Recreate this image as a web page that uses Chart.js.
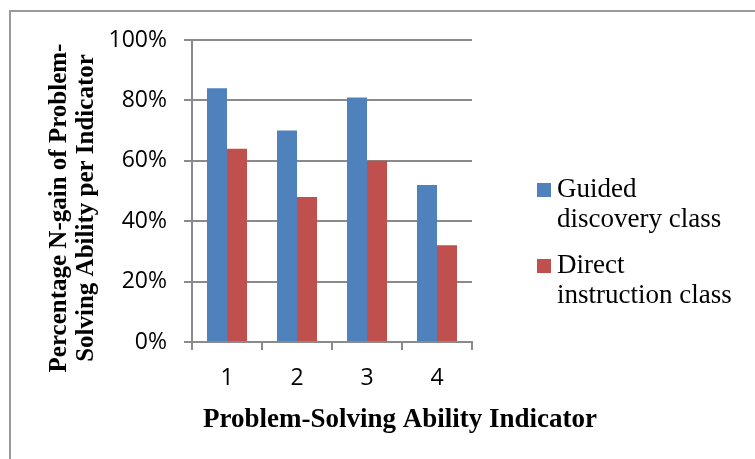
<!DOCTYPE html>
<html><head><meta charset="utf-8">
<script src="https://cdn.jsdelivr.net/npm/chart.js@4/dist/chart.umd.min.js"></script>
<style>html,body{margin:0;padding:0;background:#fff;}#wrap{position:relative;width:755px;height:459px;}</style>
</head><body><div id="wrap"><canvas id="c" width="755" height="459"></canvas></div>
<script>
const categories = ['1', '2', '3', '4'];
const seriesNames = ['Guided discovery class', 'Direct instruction class'];
const guidedValues = [84, 70, 81, 52];
const directValues = [64, 48, 60, 32];
const yTickLabels = ['0%', '20%', '40%', '60%', '80%', '100%'];
const xAxisTitle = 'Problem-Solving Ability Indicator';
const yAxisTitleLines = ['Percentage N-gain of Problem-', 'Solving Ability per Indicator'];
const legendLines = [['Guided', 'discovery class'], ['Direct', 'instruction class']];
const seriesColors = ['#4F81BD', '#C0504D'];

const gridColor = '#8a8a8a';

const decor = {
  id: 'decor',
  afterDraw(chart) {
    const ctx = chart.ctx;
    ctx.save();
    // outer frame (top and left visible)
    ctx.strokeStyle = '#9a9a9a';
    ctx.lineWidth = 2;
    ctx.beginPath();
    ctx.moveTo(10, 459); ctx.lineTo(10, 11); ctx.lineTo(755, 11);
    ctx.stroke();

    ctx.fillStyle = '#000';
    // x axis title
    ctx.font = 'bold 27px "Liberation Serif"';
    ctx.textAlign = 'center';
    ctx.textBaseline = 'alphabetic';
    ctx.fillText(xAxisTitle, 400, 427);

    // y axis title (rotated)
    ctx.save();
    ctx.translate(0, 208);
    ctx.rotate(-Math.PI / 2);
    ctx.font = 'bold 25px "Liberation Serif"';
    ctx.textAlign = 'center';
    ctx.fillText(yAxisTitleLines[0], 0, 66);
    ctx.fillText(yAxisTitleLines[1], 0, 93);
    ctx.restore();

    // legend
    const legendTops = [183, 259];
    ctx.font = '27px "Liberation Serif"';
    ctx.textAlign = 'left';
    legendLines.forEach((lines, i) => {
      ctx.fillStyle = seriesColors[i];
      ctx.fillRect(537, legendTops[i], 14, 14);
      ctx.fillStyle = '#000';
      lines.forEach((ln, j) => {
        ctx.fillText(ln, 557, legendTops[i] + 14 + j * 29.5);
      });
    });
    ctx.restore();
  }
};

new Chart(document.getElementById('c'), {
  type: 'bar',
  data: {
    labels: categories,
    datasets: [
      { label: seriesNames[0], data: guidedValues, backgroundColor: seriesColors[0], barPercentage: 1, categoryPercentage: 40 / 70 },
      { label: seriesNames[1], data: directValues, backgroundColor: seriesColors[1], barPercentage: 1, categoryPercentage: 40 / 70 }
    ]
  },
  options: {
    responsive: false,
    animation: false,
    devicePixelRatio: 1,
    layout: { padding: { left: 0, top: 40, right: 283, bottom: 0 } },
    plugins: { legend: { display: false }, tooltip: { enabled: false }, title: { display: false } },
    scales: {
      x: {
        afterFit(scale) { scale.height = 117; },
        grid: { drawOnChartArea: false, drawTicks: true, tickLength: 8, color: gridColor, lineWidth: 2 },
        border: { display: true, color: gridColor, width: 2 },
        ticks: { color: '#000', font: { family: '"Open Sans"', size: 23 }, padding: 15 }
      },
      y: {
        min: 0, max: 100,
        afterFit(scale) { scale.width = 192; },
        grid: { drawOnChartArea: true, drawTicks: true, tickLength: 8, color: gridColor, lineWidth: 2 },
        border: { display: true, color: gridColor, width: 2 },
        ticks: {
          stepSize: 20,
          color: '#000',
          font: { family: '"Open Sans"', size: 23 },
          padding: 17,
          callback: (v, i) => yTickLabels[i]
        }
      }
    }
  },
  plugins: [decor]
});
</script>
</body></html>
